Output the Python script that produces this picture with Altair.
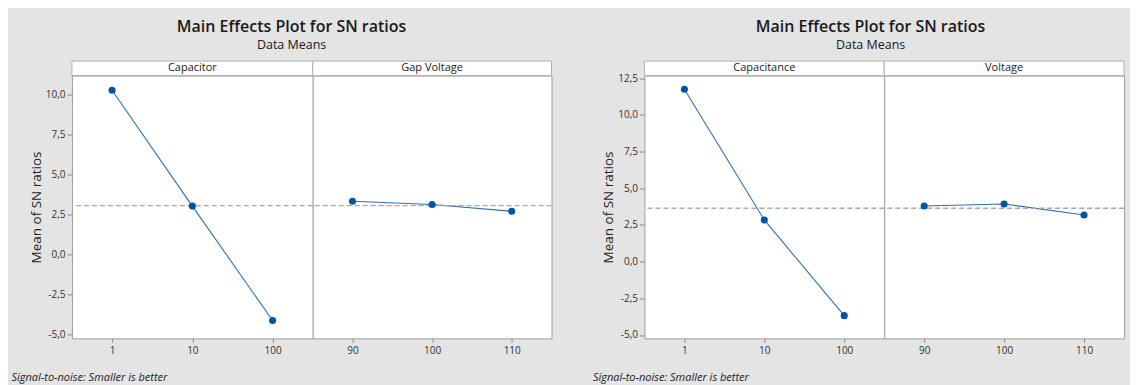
import altair as alt
import pandas as pd

FONT = "Open Sans"

# ---------------- data ----------------
left_factors = ["Capacitor", "Gap Voltage"]
left_levels = [["1", "10", "100"], ["90", "100", "110"]]
left_means = [[10.28, 3.03, -4.13], [3.33, 3.13, 2.71]]
left_grand_mean = 3.06
left_y_domain = [-5.25, 11.2]
left_y_ticks = [-5, -2.5, 0, 2.5, 5, 7.5, 10]

right_factors = ["Capacitance", "Voltage"]
right_levels = [["1", "10", "100"], ["90", "100", "110"]]
right_means = [[11.75, 2.84, -3.68], [3.79, 3.93, 3.18]]
right_grand_mean = 3.64
right_y_domain = [-5.23, 12.68]
right_y_ticks = [-5, -2.5, 0, 2.5, 5, 7.5, 10, 12.5]

main_title = "Main Effects Plot for SN ratios"
sub_title = "Data Means"
y_title = "Mean of SN ratios"
footnote = "Signal-to-noise: Smaller is better"

PLOT_H = 263
STRIP_H = 14.5
LABEL_EXPR = "(datum.value < 0 ? '-' : '') + replace(format(abs(datum.value), '.1f'), '.', ',')"


def panel(factor, levels, means, grand, ydom, yticks, width, first, foot_x, ytitle_x):
    df = pd.DataFrame({"level": levels, "mean": means})
    xaxis_kw = dict(labelAngle=0, tickSize=4, labelPadding=3, domain=False)
    if first:
        xaxis_kw.update(title=footnote, titleX=foot_x, titleY=39, titleAlign="left",
                        titleBaseline="middle", titleFontStyle="italic",
                        titleFontSize=11, titleFontWeight="normal", titleColor="#222222",
                        titleFont=FONT)
    else:
        xaxis_kw.update(title=None)
    x = alt.X("level:N", sort=levels,
              scale=alt.Scale(type="point", padding=0.5),
              axis=alt.Axis(**xaxis_kw))
    yscale = alt.Scale(domain=ydom, nice=False, zero=False)
    if first:
        yaxis = alt.Axis(values=yticks, labelExpr=LABEL_EXPR, title=y_title,
                         titleX=ytitle_x, titleY=PLOT_H / 2, titleAlign="center",
                         titleBaseline="middle", titleFontSize=13.5,
                         titleFontWeight="normal", titleColor="#222222",
                         titleFont=FONT, tickSize=5, labelPadding=2, domain=False)
    else:
        yaxis = None
    y = alt.Y("mean:Q", scale=yscale, axis=yaxis)

    one = pd.DataFrame({"grand": [grand], "factor": [factor]})
    strip = alt.Chart(one).mark_rect(fill="white", stroke="#b0b0b0", strokeWidth=1,
                                     clip=False).encode(
        x=alt.value(0), x2=alt.value(width), y=alt.value(-STRIP_H), y2=alt.value(0))
    strip_text = alt.Chart(one).mark_text(font=FONT, fontSize=11, color="#222222",
                                          align="center", baseline="middle",
                                          clip=False).encode(
        x=alt.value(width / 2), y=alt.value(-STRIP_H / 2), text="factor:N")
    rule = alt.Chart(one).mark_rule(color="#a8a8a8", strokeDash=[5, 3],
                                    strokeWidth=1.3).encode(
        y=alt.Y("grand:Q", scale=yscale, axis=yaxis))
    base = alt.Chart(df)
    line = base.mark_line(color="#2d6fb8", strokeWidth=1.1).encode(x=x, y=y)
    pts = base.mark_circle(size=50, color="#0054a6", opacity=1).encode(x=x, y=y)
    return alt.layer(line, rule, strip, strip_text, pts).properties(
        width=width, height=PLOT_H)


def group(factors, levels, means, grand, ydom, yticks, widths, foot_x, ytitle_x, dx):
    p1 = panel(factors[0], levels[0], means[0], grand, ydom, yticks, widths[0], True,
               foot_x, ytitle_x)
    p2 = panel(factors[1], levels[1], means[1], grand, ydom, yticks, widths[1], False,
               foot_x, ytitle_x)
    return alt.hconcat(p1, p2, spacing=0, bounds="flush").properties(
        title=alt.TitleParams(main_title, subtitle=sub_title, font=FONT, fontSize=16,
                              fontWeight=600, color="#1a1a1a", subtitleFont=FONT,
                              subtitleFontSize=12.5, subtitleColor="#1a1a1a",
                              subtitlePadding=4, offset=8.5, anchor="middle", dx=dx))


left = group(left_factors, left_levels, left_means, left_grand_mean, left_y_domain,
             left_y_ticks, [241, 239], -61, -35, 10)
right = group(right_factors, right_levels, right_means, right_grand_mean, right_y_domain,
              right_y_ticks, [240, 240], -52, -36, 12)

chart = alt.hconcat(left, right, spacing=38).properties(
    padding={"left": 2, "top": 10.5, "right": 4, "bottom": 2},
    background="#e4e4e4",
).configure_view(stroke="#a0a0a0", fill="white").configure_axis(
    labelFont=FONT, labelFontSize=10, labelColor="#333333", tickColor="#8a8a8a",
    grid=False,
)

chart.save("out.html", embed_options={"renderer": "svg", "actions": False})
